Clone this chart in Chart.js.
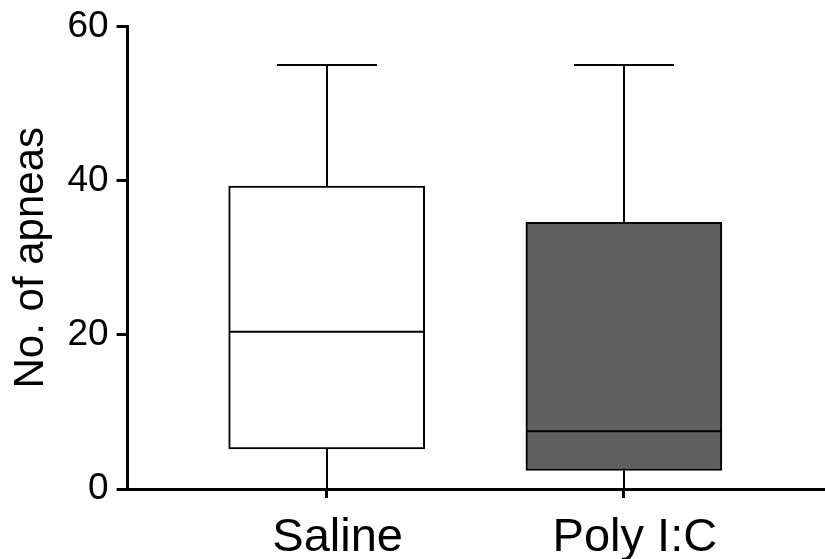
<!DOCTYPE html>
<html>
<head>
<meta charset="utf-8">
<script src="https://cdn.jsdelivr.net/npm/chart.js@4"></script>
<style>
  html, body { margin: 0; padding: 0; background: #fff; overflow: hidden; }
  #wrap { width: 825px; height: 580px; position: relative; }
</style>
</head>
<body>
<div id="wrap"><canvas id="chart1"></canvas></div>
<script>
// box plot summary per group
const groups = ['Saline', 'Poly I:C'];
const mins = [0, 0];
const q1s = [5.2, 2.4];
const medians = [20.4, 7.5];
const q3s = [39.3, 34.6];
const maxs = [55, 55];
const boxColors = ['#ffffff', '#606060'];
const yTicks = [0, 20, 40, 60];

const font = 'Liberation Sans, Arial, Helvetica, sans-serif';

// whiskers + median lines, placed through the chart scales
const whiskers = {
  id: 'whiskers',
  afterDatasetsDraw(chart) {
    const x = chart.scales.x;
    const y = chart.scales.y;
    const ctx = chart.ctx;
    const half = 98;
    ctx.save();
    ctx.strokeStyle = '#000';
    ctx.lineWidth = 2;
    ctx.lineCap = 'butt';
    groups.forEach((g, i) => {
      const cx = Math.round(x.getPixelForValue(i));
      const line = (x1, y1, x2, y2) => {
        ctx.beginPath();
        ctx.moveTo(x1, y1);
        ctx.lineTo(x2, y2);
        ctx.stroke();
      };
      // upper whisker and cap
      line(cx, y.getPixelForValue(q3s[i]), cx, y.getPixelForValue(maxs[i]));
      line(cx - 50, y.getPixelForValue(maxs[i]), cx + 50, y.getPixelForValue(maxs[i]));
      // lower whisker
      line(cx, y.getPixelForValue(q1s[i]), cx, y.getPixelForValue(mins[i]));
      // median
      line(cx - half, y.getPixelForValue(medians[i]), cx + half, y.getPixelForValue(medians[i]));
    });
    ctx.restore();
  }
};

const ctx1 = document.getElementById('chart1');
const chart = new Chart(ctx1, {
  type: 'bar',
  data: {
    datasets: [{
      data: groups.map((g, i) => ({ x: i, y: [q1s[i], q3s[i]] })),
      backgroundColor: boxColors,
      borderColor: '#000',
      borderWidth: 2,
      borderSkipped: false,
      barThickness: 196
    }]
  },
  options: {
    responsive: true,
    maintainAspectRatio: false,
    animation: false,
    layout: { padding: { top: 2, right: 2, left: 6, bottom: 1 } },
    plugins: {
      legend: { display: false },
      tooltip: { enabled: false }
    },
    scales: {
      x: {
        type: 'linear',
        offset: false,
        min: -0.67,
        max: 1.67,
        afterBuildTicks: axis => { axis.ticks = groups.map((g, i) => ({ value: i })); },
        ticks: {
          color: '#000',
          font: { family: font, size: 47, lineHeight: 1 },
          padding: 17,
          labelOffset: 11,
          maxRotation: 0,
          callback: v => groups[v]
        },
        grid: {
          offset: false,
          drawOnChartArea: false,
          color: '#000',
          lineWidth: 3,
          tickLength: 9
        },
        border: { color: '#000', width: 3 }
      },
      y: {
        min: 0,
        max: 60,
        afterBuildTicks: axis => { axis.ticks = yTicks.map(v => ({ value: v })); },
        ticks: {
          color: '#000',
          font: { family: font, size: 37, lineHeight: 1 },
          padding: 8
        },
        grid: {
          drawOnChartArea: false,
          color: '#000',
          lineWidth: 3,
          tickLength: 11
        },
        border: { color: '#000', width: 3 },
        title: {
          display: true,
          text: 'No. of apneas',
          color: '#000',
          font: { family: font, size: 42 },
          padding: { top: 0, bottom: 3 }
        }
      }
    }
  },
  plugins: [whiskers]
});
</script>
</body>
</html>
